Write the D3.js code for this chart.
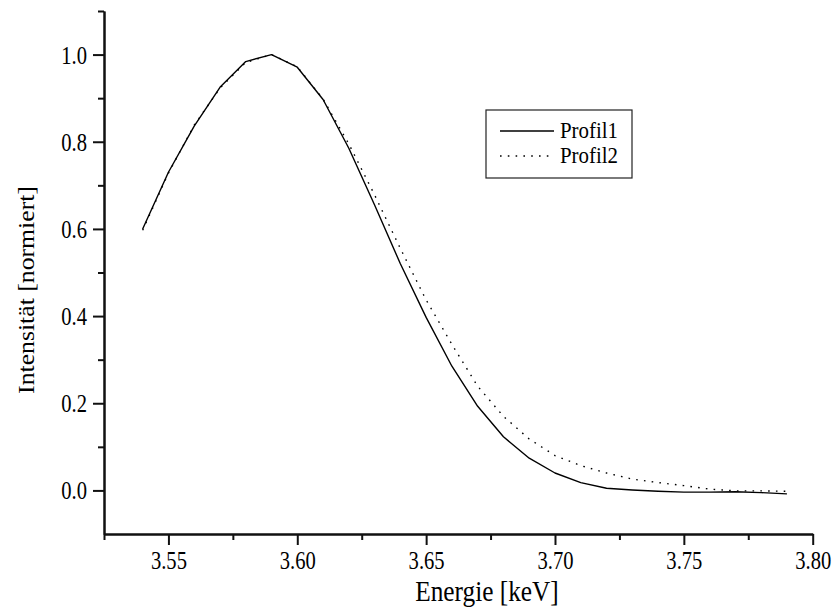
<!DOCTYPE html>
<html>
<head>
<meta charset="utf-8">
<script src="https://cdn.jsdelivr.net/npm/d3@7"></script>
<style>
  html, body { margin: 0; padding: 0; background: #fff; }
  svg { display: block; }
  text { font-family: "Liberation Serif", "Times New Roman", serif; fill: #000; }
</style>
</head>
<body>
<svg id="chart" width="832" height="610"></svg>
<script>
// Energy grid (keV) and the two normalised line profiles
const energy = [3.54, 3.55, 3.56, 3.57, 3.58, 3.59, 3.60, 3.61, 3.62, 3.63,
                3.64, 3.65, 3.66, 3.67, 3.68, 3.69, 3.70, 3.71, 3.72, 3.73,
                3.74, 3.75, 3.76, 3.77, 3.78, 3.79];
const profil1 = [0.600, 0.730, 0.836, 0.925, 0.984, 1.000, 0.971, 0.897, 0.785, 0.655,
                 0.520, 0.397, 0.285, 0.193, 0.123, 0.074, 0.040, 0.018, 0.005, 0.001,
                 -0.002, -0.004, -0.004, -0.003, -0.005, -0.008];
const profil2 = [0.597, 0.728, 0.838, 0.923, 0.982, 1.000, 0.972, 0.898, 0.795, 0.678,
                 0.555, 0.437, 0.335, 0.239, 0.170, 0.118, 0.080, 0.057, 0.040, 0.026,
                 0.018, 0.011, 0.003, -0.001, -0.001, -0.002];

const xMajor = [3.55, 3.60, 3.65, 3.70, 3.75, 3.80];
const xMinor = [3.525, 3.575, 3.625, 3.675, 3.725, 3.775];
const yMajor = [0.0, 0.2, 0.4, 0.6, 0.8, 1.0];
const yMinor = [0.1, 0.3, 0.5, 0.7, 0.9, 1.1];

const seriesNames = ["Profil1", "Profil2"];
const xTitle = "Energie [keV]";
const yTitle = "Intensität [normiert]";

// Glyphs in this figure are drawn taller than wide
const stretch = 1.22;

const svg = d3.select("#chart");
const x = d3.scaleLinear().domain([3.525, 3.80]).range([104, 812.7]);
const y = d3.scaleLinear().domain([-0.1, 1.1]).range([534, 11]);

// ---- axes ----
function styleAxis(g) {
  g.select(".domain").attr("stroke", "#111").attr("stroke-width", 2);
  g.selectAll(".tick line").attr("stroke", "#111").attr("stroke-width", 2);
}

// bottom axis: minor ticks, then major ticks with labels
svg.append("g").attr("transform", "translate(0,534)")
  .call(d3.axisBottom(x).tickValues(xMinor).tickSize(6).tickSizeOuter(0).tickFormat(""))
  .call(styleAxis);
const xAx = svg.append("g").attr("transform", "translate(0,534)")
  .call(d3.axisBottom(x).tickValues(xMajor).tickSize(11).tickSizeOuter(0).tickFormat(d3.format(".2f")))
  .call(styleAxis);
xAx.selectAll(".tick text")
  .attr("font-size", 20.6)
  .attr("dy", null)
  .attr("y", 35 / stretch)
  .attr("transform", `scale(1,${stretch})`);

// left axis
svg.append("g").attr("transform", "translate(104,0)")
  .call(d3.axisLeft(y).tickValues(yMinor).tickSize(6).tickSizeOuter(0).tickFormat(""))
  .call(styleAxis);
const yAx = svg.append("g").attr("transform", "translate(104,0)")
  .call(d3.axisLeft(y).tickValues(yMajor).tickSize(11).tickSizeOuter(0).tickFormat(d3.format(".1f")))
  .call(styleAxis);
yAx.selectAll(".tick text")
  .attr("font-size", 20.6)
  .attr("x", -17)
  .attr("dy", "0.34em")
  .attr("transform", `scale(1,${stretch})`);

// axis titles
svg.append("text")
  .attr("transform", `translate(487,601) scale(1,1.15)`)
  .attr("text-anchor", "middle")
  .attr("font-size", 25.3)
  .text(xTitle);

svg.append("text")
  .attr("transform", `translate(34,290) rotate(-90) scale(1.1,1)`)
  .attr("text-anchor", "middle")
  .attr("font-size", 23.4)
  .text(yTitle);

// ---- profiles ----
const line = d3.line().x(d => x(d[0])).y(d => y(d[1]));
const styles = [
  { dash: null },
  { dash: "1.6,6.2" }
];
[profil1, profil2].forEach((vals, i) => {
  svg.append("path")
    .datum(energy.map((e, k) => [e, vals[k]]))
    .attr("fill", "none")
    .attr("stroke", "#000")
    .attr("stroke-width", 1.4)
    .attr("stroke-linejoin", "round")
    .attr("stroke-dasharray", styles[i].dash)
    .attr("d", line);
});

// ---- legend ----
const lg = svg.append("g").attr("transform", "translate(486,110)");
lg.append("rect")
  .attr("width", 146).attr("height", 68)
  .attr("fill", "#fff").attr("stroke", "#222").attr("stroke-width", 1.2);
seriesNames.forEach((name, i) => {
  const yy = 21 + i * 25;
  lg.append("line")
    .attr("x1", 14).attr("x2", i === 0 ? 68 : 66)
    .attr("y1", yy).attr("y2", yy)
    .attr("stroke", "#000").attr("stroke-width", 1.4)
    .attr("stroke-dasharray", styles[i].dash);
  lg.append("text")
    .attr("transform", `translate(74,${yy + 7}) scale(1,1.08)`)
    .attr("font-size", 20.9)
    .text(name);
});
</script>
</body>
</html>
